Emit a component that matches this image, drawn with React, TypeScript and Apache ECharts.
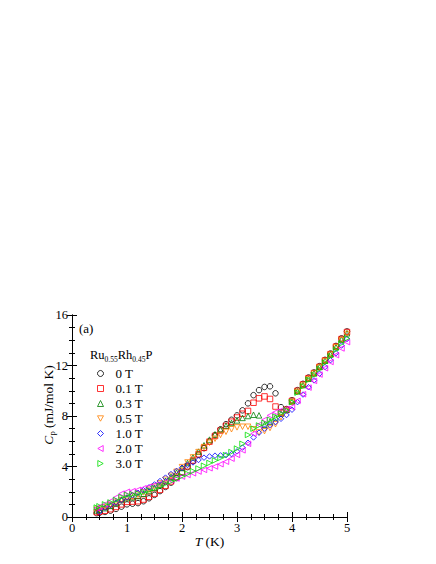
import React, { useEffect, useRef } from 'react';
import * as echarts from 'echarts';

const FONT = 'Liberation Serif, Times New Roman, serif';

const temps = [0.45, 0.5, 0.6, 0.7, 0.8, 0.9, 1.0, 1.1, 1.2, 1.3, 1.4, 1.5, 1.6, 1.7, 1.8, 1.9, 2.0, 2.1, 2.2, 2.3, 2.4, 2.5, 2.6, 2.7, 2.8, 2.9, 3.0, 3.1, 3.2, 3.3, 3.4, 3.5, 3.6, 3.7, 3.8, 3.9, 4.0, 4.1, 4.2, 4.3, 4.4, 4.5, 4.6, 4.7, 4.8, 4.9, 5.0];

const fieldLabels = ['0 T', '0.1 T', '0.3 T', '0.5 T', '1.0 T', '2.0 T', '3.0 T'];

const c0T = [0.30, 0.33, 0.40, 0.50, 0.64, 0.82, 1.00, 1.05, 1.10, 1.25, 1.48, 1.75, 2.05, 2.38, 2.72, 3.08, 3.50, 3.95, 4.42, 4.92, 5.45, 5.98, 6.48, 6.95, 7.35, 7.70, 8.05, 8.45, 9.00, 9.65, 10.05, 10.30, 10.35, 9.80, 8.70, 8.55, 9.25, 10.05, 10.55, 11.05, 11.45, 11.95, 12.45, 12.95, 13.55, 14.15, 14.70];
const c01T = [0.38, 0.42, 0.50, 0.62, 0.80, 1.00, 1.20, 1.22, 1.25, 1.38, 1.60, 1.85, 2.15, 2.47, 2.82, 3.18, 3.58, 4.02, 4.48, 4.97, 5.48, 5.97, 6.42, 6.85, 7.22, 7.55, 7.88, 8.18, 8.40, 9.05, 9.40, 9.55, 9.35, 8.75, 8.25, 8.50, 9.20, 10.00, 10.50, 11.00, 11.40, 11.90, 12.40, 12.90, 13.50, 14.10, 14.65];
const c03T = [0.52, 0.58, 0.70, 0.88, 1.12, 1.38, 1.50, 1.56, 1.66, 1.84, 2.05, 2.30, 2.57, 2.87, 3.18, 3.52, 3.88, 4.28, 4.72, 5.18, 5.68, 6.13, 6.55, 6.93, 7.23, 7.45, 7.65, 7.85, 8.00, 8.10, 8.05, 7.30, 7.55, 7.88, 8.18, 8.48, 9.15, 9.95, 10.45, 10.95, 11.38, 11.88, 12.38, 12.88, 13.45, 14.05, 14.55];
const c05T = [0.58, 0.64, 0.76, 0.94, 1.14, 1.34, 1.50, 1.62, 1.76, 1.95, 2.16, 2.40, 2.66, 2.95, 3.26, 3.58, 3.95, 4.32, 4.72, 5.14, 5.54, 5.88, 6.20, 6.50, 6.75, 6.95, 7.10, 7.15, 7.15, 6.95, 6.70, 6.80, 7.05, 7.35, 7.90, 8.40, 9.10, 9.90, 10.40, 10.90, 11.35, 11.85, 12.35, 12.85, 13.45, 14.00, 14.50];
const c1T = [null, 0.40, 0.74, 0.95, 1.15, 1.35, 1.55, 1.72, 1.92, 2.12, 2.35, 2.58, 2.85, 3.12, 3.40, 3.65, 3.90, 4.12, 4.32, 4.52, 4.70, 4.80, 4.86, 4.88, 4.90, 4.98, 5.20, 5.50, 5.88, 6.30, 6.68, 7.00, 7.28, 7.52, 7.78, 8.08, 8.50, 9.10, 9.70, 10.28, 10.82, 11.35, 11.88, 12.42, 12.98, 13.58, 14.10];
const c2T = [0.70, 0.80, 1.00, 1.25, 1.55, 1.85, 2.00, 2.05, 2.15, 2.28, 2.40, 2.52, 2.64, 2.77, 2.90, 3.05, 3.20, 3.33, 3.46, 3.60, 3.73, 3.86, 4.00, 4.18, 4.38, 4.62, 4.92, 5.28, 5.80, 6.60, 7.30, 7.70, 8.05, 8.30, 8.45, 8.55, 8.70, 9.20, 9.72, 10.25, 10.78, 11.28, 11.78, 12.28, 12.82, 13.35, 13.85];
const c3T = [0.75, 0.85, 1.00, 1.15, 1.35, 1.58, 1.75, 1.80, 1.88, 1.98, 2.12, 2.28, 2.45, 2.63, 2.83, 3.03, 3.23, 3.43, 3.63, 3.84, 4.06, 4.28, 4.48, 4.68, 4.90, 5.14, 5.42, 5.80, 6.50, 7.00, 7.25, 7.45, 7.70, 7.95, 8.20, 8.45, 9.10, 9.85, 10.35, 10.85, 11.25, 11.72, 12.22, 12.72, 13.25, 13.75, 14.15];

const seriesValues = [c0T, c01T, c03T, c05T, c1T, c2T, c3T];
const colors = ['#000000', '#ff0000', '#008000', '#ff8000', '#0000ff', '#ff00ff', '#00e000'];
const symbols = [
  'circle',
  'rect',
  'triangle',
  'path://M0,0L10,0L5,9Z',
  'diamond',
  'path://M0,5L9,0L9,10Z',
  'path://M0,0L9,5L0,10Z',
];

export default function App() {
  const ref = useRef<HTMLDivElement>(null);
  useEffect(() => {
    if (!ref.current) return;
    const chart = echarts.init(ref.current, null, { renderer: 'svg' });
    const axisCommon = {
      axisLine: { show: true, lineStyle: { color: '#000', width: 1 } },
      axisTick: { show: true, inside: true, length: 5, lineStyle: { color: '#000' } },
      minorTick: { show: true, splitNumber: 4, length: 3, lineStyle: { color: '#000' } },
      splitLine: { show: false },
      minorSplitLine: { show: false },
    };
    chart.setOption({
      animation: false,
      backgroundColor: '#fff',
      grid: { left: 72, top: 315, width: 275, height: 202, containLabel: false },
      xAxis: [
        {
          type: 'value', min: 0, max: 5, interval: 1, position: 'bottom',
          ...axisCommon,
          axisLabel: { margin: 4, color: '#000', fontFamily: FONT, fontSize: 12.5 },
          name: '{i|T}{a| (K)}',
          nameLocation: 'middle',
          nameGap: 17,
          nameTextStyle: {
            color: '#000', fontFamily: FONT, fontSize: 13,
            rich: {
              i: { fontStyle: 'italic', fontFamily: FONT, fontSize: 13.5, color: '#000' },
              a: { fontFamily: FONT, fontSize: 13.5, color: '#000' },
            },
          },
        },
        {
          type: 'value', min: 0, max: 5, interval: 1, position: 'top',
          ...axisCommon,
          axisLabel: { show: false },
        },
      ],
      yAxis: [
        {
          type: 'value', min: 0, max: 16, interval: 4, position: 'left',
          ...axisCommon,
          axisLabel: { margin: 4, color: '#000', fontFamily: FONT, fontSize: 12.5 },
        },
        {
          type: 'value', min: 0, max: 16, interval: 4, position: 'right',
          ...axisCommon,
          axisLabel: { show: false },
        },
      ],
      legend: {
        orient: 'vertical',
        left: 97,
        top: 366,
        padding: 0,
        itemGap: 0,
        itemWidth: 6,
        itemHeight: 6,
        symbolKeepAspect: true,
        selectedMode: false,
        textStyle: { fontFamily: FONT, fontSize: 13, color: '#000', lineHeight: 15, padding: [0, 0, 0, 7] },
        data: fieldLabels.map((name, i) => ({
          name,
          icon: symbols[i],
          itemStyle: { color: 'rgba(0,0,0,0)', borderColor: colors[i], borderWidth: 1 },
        })),
      },
      graphic: [
        {
          type: 'text', x: 79, y: 322,
          style: { text: '(a)', fontFamily: FONT, fontSize: 13, fill: '#000' },
        },
        {
          type: 'text', x: 90, y: 347,
          style: {
            text: '{a|Ru}{s|0.55}{a|Rh}{s|0.45}{a|P}',
            fill: '#000',
            rich: {
              a: { fontFamily: FONT, fontSize: 12.5, lineHeight: 16, fill: '#000' },
              s: { fontFamily: FONT, fontSize: 7.5, lineHeight: 8, verticalAlign: 'bottom', fill: '#000' },
            },
          },
        },
        {
          type: 'text', x: 48, y: 405, rotation: Math.PI / 2,
          style: {
            text: '{i|C}{s|p}{a| (mJ/mol K)}',
            align: 'center',
            verticalAlign: 'middle',
            fill: '#000',
            rich: {
              i: { fontFamily: FONT, fontStyle: 'italic', fontSize: 13.5, lineHeight: 16, fill: '#000' },
              a: { fontFamily: FONT, fontSize: 13.5, lineHeight: 16, fill: '#000' },
              s: { fontFamily: FONT, fontSize: 8.5, lineHeight: 8, verticalAlign: 'bottom', fill: '#000' },
            },
          },
        },
      ],
      series: seriesValues.map((vals, i) => ({
        type: 'scatter',
        name: fieldLabels[i],
        xAxisIndex: 0,
        yAxisIndex: 0,
        data: temps
          .map((t, j) => (vals[j] == null ? null : [t, vals[j]]))
          .filter((d) => d !== null),
        symbol: symbols[i],
        symbolSize: 5.5,
        itemStyle: { color: 'rgba(0,0,0,0)', borderColor: colors[i], borderWidth: 1 },
      })),
    });
    return () => chart.dispose();
  }, []);
  return (
    <div
      ref={ref}
      style={{ position: 'fixed', left: 0, top: 0, width: 436, height: 564, background: '#fff' }}
    />
  );
}
